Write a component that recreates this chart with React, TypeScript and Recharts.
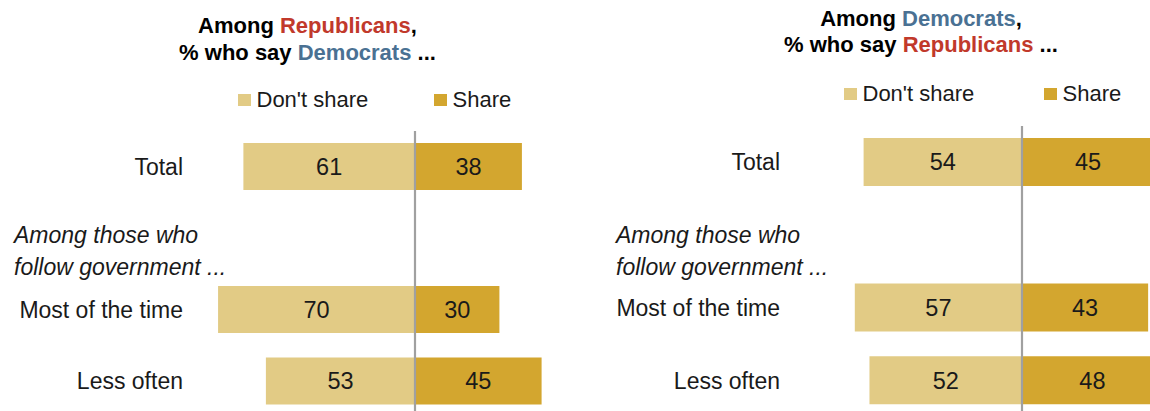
import React from "react";
import {
  BarChart,
  Bar,
  XAxis,
  YAxis,
  ReferenceLine,
  LabelList,
  Legend,
} from "recharts";

// ---------- data ----------
const headingLines = ["Among those who", "follow government ..."];
const HEADING = headingLines.join(" ");
const categories = ["Total", HEADING, "Most of the time", "Less often"];

const repDontShare: (number | null)[] = [61, null, 70, 53];
const repShare: (number | null)[] = [38, null, 30, 45];
const demDontShare: (number | null)[] = [54, null, 57, 52];
const demShare: (number | null)[] = [45, null, 43, 48];

const seriesNames = ["Don't share", "Share"];

// ---------- styles ----------
const FONT = "'Liberation Sans', Arial, Helvetica, sans-serif";
const C_DONT = "#e2cb85";
const C_SHARE = "#d3a62f";
const C_RED = "#c1392b";
const C_BLUE = "#4a7193";
const C_TEXT = "#1a1a1a";

const buildRows = (dont: (number | null)[], share: (number | null)[]) =>
  categories.map((cat, i) => ({
    cat,
    dont: dont[i] == null ? null : -(dont[i] as number),
    share: share[i],
  }));

const repRows = buildRows(repDontShare, repShare);
const demRows = buildRows(demDontShare, demShare);

const absFmt = (v: any) => (v == null || v === "" ? "" : String(Math.abs(Number(v))));

const makeTick =
  (rightX: number, headX: number, headDy: number, lineGap: number) =>
  (props: any) => {
    const { y, payload } = props;
    const v = payload?.value;
    if (v === HEADING) {
      return (
        <text
          x={headX}
          y={y}
          fontFamily={FONT}
          fontSize={23}
          fontStyle="italic"
          fill={C_TEXT}
          textAnchor="start"
        >
          <tspan x={headX} dy={headDy}>
            {headingLines[0]}
          </tspan>
          <tspan x={headX} dy={lineGap}>
            {headingLines[1]}
          </tspan>
        </text>
      );
    }
    return (
      <text
        x={rightX}
        y={y}
        dy="0.35em"
        fontFamily={FONT}
        fontSize={23}
        fill={C_TEXT}
        textAnchor="end"
      >
        {v}
      </text>
    );
  };

const makeLegend = (itemWidth: number) => (props: any) => {
  const payload = props.payload || [];
  return (
    <div style={{ display: "flex", alignItems: "center", fontFamily: FONT }}>
      {payload.map((p: any) => (
        <div
          key={p.value}
          style={{ display: "flex", alignItems: "center", width: itemWidth }}
        >
          <span
            style={{
              display: "inline-block",
              width: 12.5,
              height: 12.5,
              background: p.color,
              marginRight: 6,
            }}
          />
          <span style={{ fontSize: 22, lineHeight: "26px", color: C_TEXT }}>
            {p.value}
          </span>
        </div>
      ))}
    </div>
  );
};

const Title = ({
  a,
  aColor,
  b,
  bColor,
  left,
  top,
  lh,
}: {
  a: string;
  aColor: string;
  b: string;
  bColor: string;
  left: number;
  top: number;
  lh: number;
}) => (
  <div
    style={{
      position: "absolute",
      left,
      top,
      width: 400,
      textAlign: "center",
      fontFamily: FONT,
      fontWeight: 700,
      fontSize: 22,
      lineHeight: `${lh}px`,
      color: "#000",
    }}
  >
    <div>
      Among <span style={{ color: aColor }}>{a}</span>,
    </div>
    <div>
      % who say <span style={{ color: bColor }}>{b}</span> ...
    </div>
  </div>
);

const Panel = ({
  rows,
  width,
  height,
  margin,
  yWidth,
  domain,
  barSize,
  tick,
  legend,
}: any) => (
  <BarChart
    width={width}
    height={height}
    data={rows}
    layout="vertical"
    stackOffset="sign"
    margin={margin}
  >
    <XAxis type="number" domain={domain} hide allowDataOverflow />
    <YAxis
      type="category"
      dataKey="cat"
      width={yWidth}
      axisLine={false}
      tickLine={false}
      interval={0}
      tick={tick}
    />
    <Legend
      layout="horizontal"
      verticalAlign="middle"
      align="center"
      wrapperStyle={legend.style}
      content={legend.content}
    />
    <Bar
      dataKey="dont"
      name={seriesNames[0]}
      stackId="a"
      fill={C_DONT}
      barSize={barSize}
      isAnimationActive={false}
    >
      <LabelList
        dataKey="dont"
        position="center"
        formatter={absFmt}
        fill={C_TEXT}
        fontSize={23.5}
        fontFamily={FONT}
      />
    </Bar>
    <Bar
      dataKey="share"
      name={seriesNames[1]}
      stackId="a"
      fill={C_SHARE}
      barSize={barSize}
      isAnimationActive={false}
    >
      <LabelList
        dataKey="share"
        position="center"
        formatter={absFmt}
        fill={C_TEXT}
        fontSize={23.5}
        fontFamily={FONT}
      />
    </Bar>
    <ReferenceLine x={0} stroke="#a0a0a0" strokeWidth={2.2} />
  </BarChart>
);

export default function App() {
  return (
    <div
      style={{
        position: "fixed",
        left: 0,
        top: 0,
        width: 1150,
        height: 411,
        overflow: "hidden",
        background: "#fff",
      }}
    >
      <Title
        a="Republicans"
        aColor={C_RED}
        b="Democrats"
        bColor={C_BLUE}
        left={107.5}
        top={12}
        lh={27}
      />
      <Title
        a="Democrats"
        aColor={C_BLUE}
        b="Republicans"
        bColor={C_RED}
        left={721}
        top={6}
        lh={26}
      />
      <div style={{ position: "absolute", left: 0, top: 0 }}>
        <Panel
          rows={repRows}
          width={640}
          height={417}
          margin={{ top: 131, right: 14, bottom: 0, left: 0 }}
          yWidth={204}
          domain={[-75, 75]}
          barSize={47}
          tick={makeTick(183, 14, 4.7, 32)}
          legend={{
            style: { left: 238, top: 87, width: 420, height: 26 },
            content: makeLegend(196),
          }}
        />
      </div>
      <div style={{ position: "absolute", left: 600, top: 0 }}>
        <Panel
          rows={demRows}
          width={620}
          height={417}
          margin={{ top: 126, right: 22, bottom: 0, left: 0 }}
          yWidth={246}
          domain={[-60, 60]}
          barSize={48}
          tick={makeTick(180, 16, 7.9, 32)}
          legend={{
            style: { left: 244, top: 81, width: 420, height: 26 },
            content: makeLegend(200),
          }}
        />
      </div>
    </div>
  );
}
